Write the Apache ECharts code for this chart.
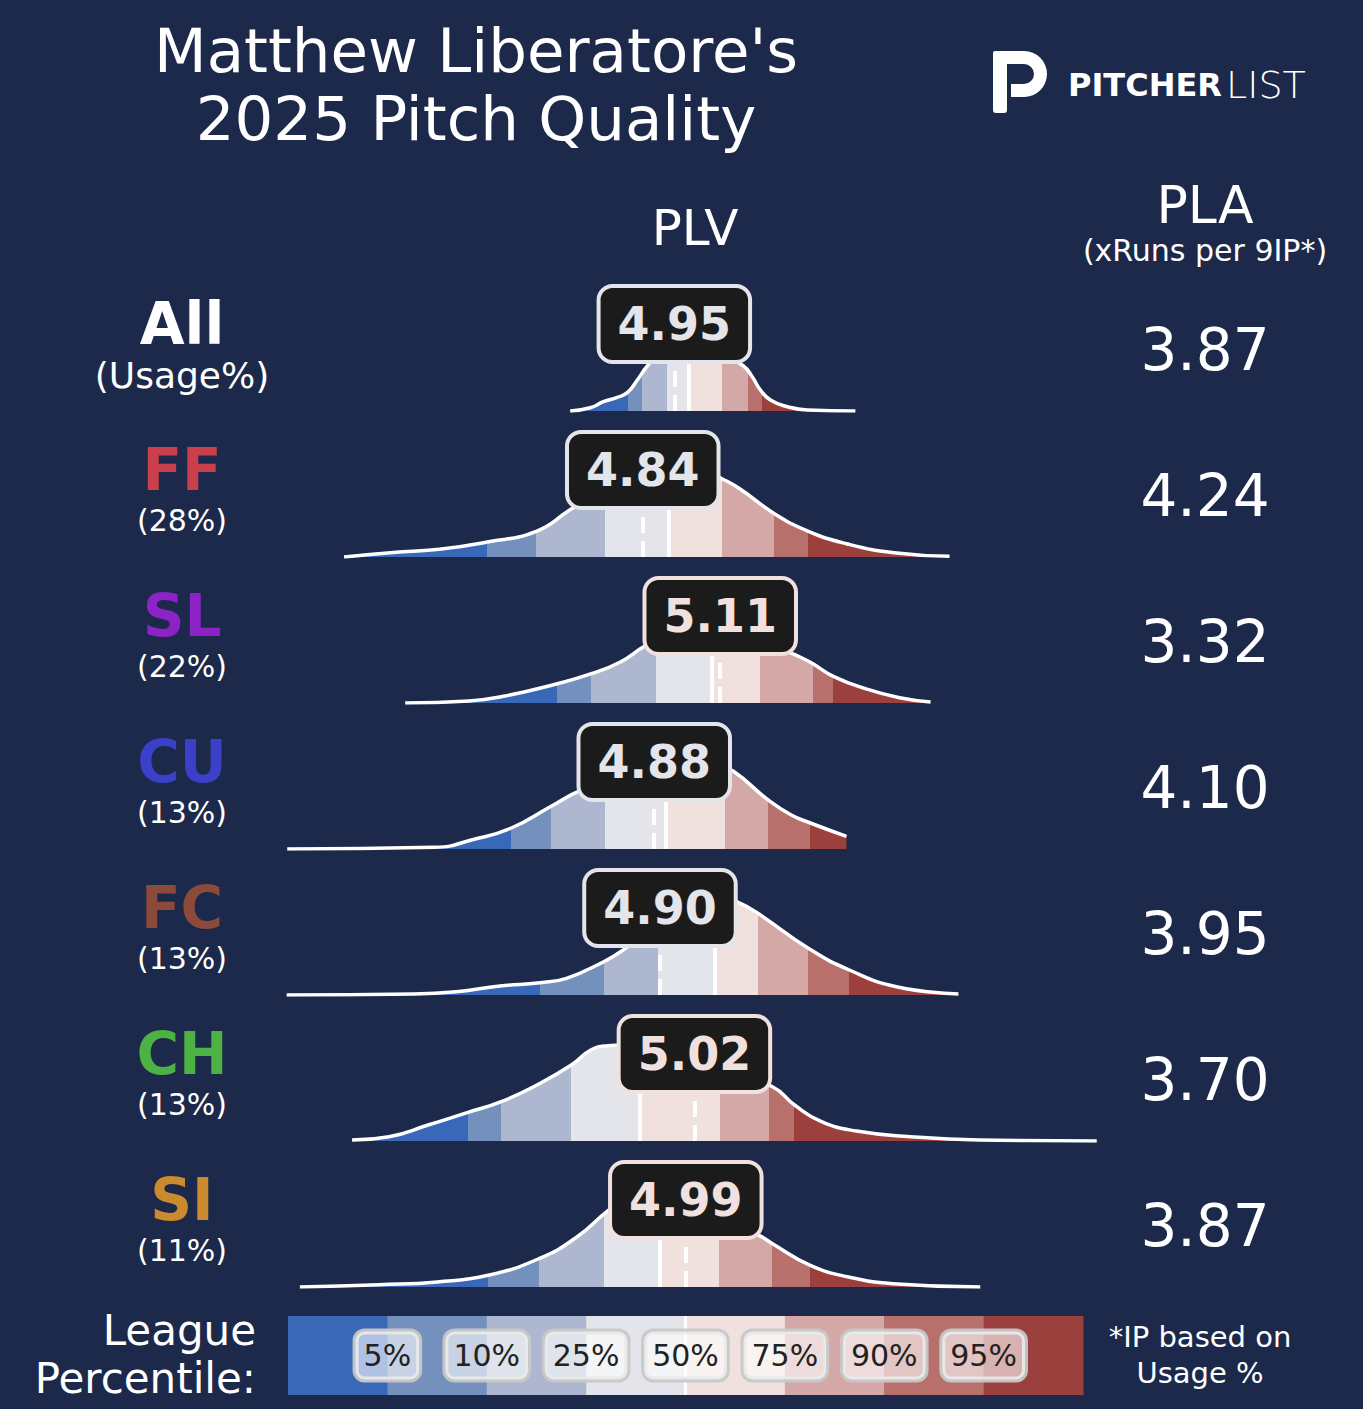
<!DOCTYPE html>
<html><head><meta charset="utf-8">
<script src="https://cdn.jsdelivr.net/npm/echarts@6/dist/echarts.min.js"></script>
<style>html,body{margin:0;padding:0;background:#1c294a;}#c{width:1363px;height:1409px;}</style>
</head><body><div id="c"></div>
<script>
// ---------------- data ----------------
const pitchTypes = ['All', 'FF', 'SL', 'CU', 'FC', 'CH', 'SI'];
const usageLabels = ['(Usage%)', '(28%)', '(22%)', '(13%)', '(13%)', '(13%)', '(11%)'];
const typeColors = ['#ffffff', '#c9404c', '#8d22c6', '#3c40c8', '#8c4a3a', '#4db244', '#c98b2e'];
const plvValues = [4.95, 4.84, 5.11, 4.88, 4.90, 5.02, 4.99];
const plaValues = ['3.87', '4.24', '3.32', '4.10', '3.95', '3.70', '3.87'];
const percentileLabels = ['5%', '10%', '25%', '50%', '75%', '90%', '95%'];
const bandColors = ['#3a68b8', '#7490bd', '#adb8d0', '#e4e5ea', '#f0e0de', '#d3a8a6', '#b7706c', '#9c403e'];

// league percentile thresholds (5,10,25,50,75,90,95) in PLV
const thrAll = [4.790, 4.838, 4.926, 4.999, 5.117, 5.205, 5.257];
const thrFF  = [4.298, 4.469, 4.709, 4.929, 5.117, 5.299, 5.417];
const thrSL  = [4.542, 4.661, 4.886, 5.076, 5.250, 5.433, 5.504];
const thrCU  = [4.382, 4.521, 4.709, 4.924, 5.128, 5.276, 5.424];
const thrFC  = [4.482, 4.704, 4.893, 5.088, 5.241, 5.417, 5.560];
const thrCH  = [4.231, 4.347, 4.591, 4.825, 5.109, 5.281, 5.368];
const thrSI  = [4.301, 4.478, 4.704, 4.903, 5.106, 5.292, 5.424];

// density curves [PLV, relative density]
const densAll = [[4.587,0],[4.657,3.3],[4.703,9.3],[4.751,13.7],[4.786,18.3],[4.821,31],[4.856,45],[4.901,58],[4.971,66],[5.041,66],[5.110,58],[5.191,45],[5.222,34],[5.250,21],[5.285,11],[5.344,4.3],[5.414,1],[5.581,0]];
const densFF = [[3.799,0],[3.991,5],[4.131,7.7],[4.298,15],[4.469,25.7],[4.584,46.7],[4.657,60],[4.762,76],[4.866,87],[4.971,91],[5.058,86],[5.116,78.3],[5.178,68.3],[5.299,43.3],[5.417,25.7],[5.550,13.3],[5.716,4.3],[5.909,0.7]];
const densSL = [[4.012,0],[4.235,2],[4.354,6.7],[4.542,19.3],[4.661,29.3],[4.762,41],[4.852,57.7],[4.936,68],[5.041,74],[5.145,71],[5.250,62],[5.337,52],[5.388,46],[5.433,39.3],[5.504,26.7],[5.616,14.3],[5.735,5.3],[5.843,1]];
const densCU = [[3.601,0],[4.117,1.7],[4.246,9.3],[4.382,21],[4.521,42.7],[4.622,58.3],[4.727,67],[4.832,75],[4.936,82],[5.041,85],[5.110,82],[5.156,77.7],[5.276,49.3],[5.356,34.3],[5.424,26],[5.550,12.7]];
const densFC = [[3.599,0],[4.037,1],[4.190,3.3],[4.343,9],[4.482,12.3],[4.574,16.7],[4.704,33.3],[4.772,45],[4.866,66],[4.971,84],[5.058,95],[5.128,96],[5.180,91.7],[5.241,81.7],[5.417,46.7],[5.560,25],[5.724,8.3],[5.940,1]];
const densCH = [[3.827,1],[3.956,4.3],[4.092,16],[4.231,28.7],[4.347,39.3],[4.471,56],[4.591,76],[4.659,91],[4.719,95.3],[4.770,96],[4.866,92],[5.006,82],[5.145,68],[5.292,54.3],[5.369,36],[5.463,19.3],[5.585,10],[5.773,4.3],[6.012,1],[6.422,0]];
const densSI = [[3.645,0],[3.922,2.3],[4.124,5],[4.301,11.7],[4.478,28.3],[4.607,49.3],[4.720,76.7],[4.779,88],[4.849,94],[4.936,92],[5.041,82],[5.145,68],[5.215,56],[5.260,49.3],[5.292,43.3],[5.424,21.7],[5.557,10],[5.713,3.3],[6.016,0]];

const thresholds = [thrAll, thrFF, thrSL, thrCU, thrFC, thrCH, thrSI];
const densities = [densAll, densFF, densSL, densCU, densFC, densCH, densSI];

// ---------------- build ----------------
const FONT = '"DejaVu Sans", "Noto Sans", sans-serif';
const BG = '#1c294a';
const ROW0 = 411, ROWSTEP = 146, ROWH = 100;
const SMOOTH = 0.5;

function bandIndex(v, thr) {
  let i = 0;
  while (i < thr.length && v >= thr[i]) i++;
  return i;
}
function pieces(thr) {
  const p = [{ lt: thr[0], color: bandColors[0] }];
  for (let i = 0; i < thr.length - 1; i++) p.push({ gte: thr[i], lt: thr[i + 1], color: bandColors[i + 1] });
  p.push({ gte: thr[thr.length - 1], color: bandColors[bandColors.length - 1] });
  return p;
}

const grids = [], xAxes = [], yAxes = [], series = [], visualMaps = [], graphics = [];

pitchTypes.forEach((pt, k) => {
  const base = ROW0 + ROWSTEP * k;
  grids.push({ left: 0, right: 0, top: base - ROWH, height: ROWH });
  xAxes.push({ type: 'value', gridIndex: k, min: 2.6, max: 7.35, show: false });
  yAxes.push({ type: 'value', gridIndex: k, min: 0, max: ROWH, show: false });
  const thr = thresholds[k];
  const col = bandColors[bandIndex(plvValues[k], thr)];
  visualMaps.push({ type: 'piecewise', show: false, dimension: 0, seriesIndex: series.length, pieces: pieces(thr) });
  series.push({
    type: 'line', xAxisIndex: k, yAxisIndex: k, data: densities[k], smooth: SMOOTH,
    symbol: 'none', lineStyle: { width: 0 }, areaStyle: { opacity: 1 }, z: 2, silent: true,
    markLine: {
      silent: true, symbol: 'none', label: { show: false }, z: 3,
      lineStyle: { color: '#ffffff', width: 4 },
      data: [
        { xAxis: thr[3], lineStyle: { color: '#ffffff', width: 4, type: 'solid' } },
        { xAxis: plvValues[k], lineStyle: { color: '#ffffff', width: 4, type: [16, 8] } }
      ]
    }
  });
  series.push({
    type: 'line', xAxisIndex: k, yAxisIndex: k, data: densities[k], smooth: SMOOTH,
    symbol: 'none', lineStyle: { color: '#ffffff', width: 3.5 }, z: 4, silent: true
  });
  series.push({
    type: 'scatter', xAxisIndex: k, yAxisIndex: k, data: [[plvValues[k], 87]], symbolSize: 0,
    itemStyle: { color: '#1b1b1b', opacity: 1 }, z: 10, silent: true,
    label: {
      show: true, position: 'inside', formatter: plvValues[k].toFixed(2), opacity: 1,
      fontFamily: FONT, fontSize: 46, fontWeight: 'bold', color: col, lineHeight: 50,
      backgroundColor: '#1b1b1b', borderColor: col, borderWidth: 4, borderRadius: 12, padding: [11, 17]
    }
  });
  // row labels
  graphics.push({ type: 'text', x: 182, y: base - 87, z: 20, style: { text: pt, fill: typeColors[k], font: 'bold 58px ' + FONT, lineHeight: 58, textAlign: 'center', textVerticalAlign: 'middle' } });
  graphics.push({ type: 'text', x: 182, y: base - (k === 0 ? 36 : 37), z: 20, style: { text: usageLabels[k], fill: '#ffffff', font: (k === 0 ? 36 : 30) + 'px ' + FONT, lineHeight: k === 0 ? 38 : 32, textAlign: 'center', textVerticalAlign: 'middle' } });
  graphics.push({ type: 'text', x: 1205, y: base - 61, z: 20, style: { text: plaValues[k], fill: '#ffffff', font: '58px ' + FONT, textAlign: 'center', textVerticalAlign: 'middle' } });
});

// legend bar
const L = pitchTypes.length;
grids.push({ left: 288, width: 795, top: 1316, height: 79 });
xAxes.push({ type: 'value', gridIndex: L, min: 0, max: 8, show: false });
yAxes.push({ type: 'value', gridIndex: L, min: 0, max: 1, show: false });
series.push({
  type: 'custom', xAxisIndex: L, yAxisIndex: L, silent: true, z: 2,
  data: bandColors.map((c, i) => [i, 1]),
  renderItem: (params, api) => {
    const i = api.value(0);
    const p0 = api.coord([i, 1]);
    const p1 = api.coord([i + 1, 0]);
    return { type: 'rect', shape: { x: p0[0], y: p0[1], width: p1[0] - p0[0] + 0.5, height: p1[1] - p0[1] }, style: { fill: bandColors[i] } };
  },
  markLine: { silent: true, symbol: 'none', label: { show: false }, lineStyle: { color: '#ffffff', width: 3, type: 'solid' }, data: [{ xAxis: 4 }] }
});
series.push({
  type: 'scatter', xAxisIndex: L, yAxisIndex: L, silent: true, z: 10, symbolSize: 0,
  itemStyle: { color: '#ffffff', opacity: 1 },
  data: percentileLabels.map((t, i) => [i + 1, 0.5]),
  label: {
    show: true, position: 'inside', formatter: p => percentileLabels[p.dataIndex], opacity: 1,
    fontFamily: FONT, fontSize: 30, color: '#222222', lineHeight: 34,
    backgroundColor: 'rgba(255,255,255,0.6)', borderColor: 'rgba(200,200,200,0.95)', borderWidth: 3, borderRadius: 9, padding: [7, 8]
  }
});

// static texts
graphics.push(
  { type: 'text', x: 476, y: 84, style: { text: "Matthew Liberatore's\n2025 Pitch Quality", fill: '#ffffff', font: '61px ' + FONT, lineHeight: 68, textAlign: 'center', textVerticalAlign: 'middle' } },
  { type: 'text', x: 695, y: 228, style: { text: 'PLV', fill: '#ffffff', font: '50px ' + FONT, textAlign: 'center', textVerticalAlign: 'middle' } },
  { type: 'text', x: 1205, y: 205, style: { text: 'PLA', fill: '#ffffff', font: '52px ' + FONT, textAlign: 'center', textVerticalAlign: 'middle' } },
  { type: 'text', x: 1205, y: 250, style: { text: '(xRuns per 9IP*)', fill: '#ffffff', font: '30px ' + FONT, textAlign: 'center', textVerticalAlign: 'middle' } },
  { type: 'text', x: 256, y: 1354, style: { text: 'League\nPercentile:', fill: '#ffffff', font: '42px ' + FONT, lineHeight: 48, textAlign: 'right', textVerticalAlign: 'middle' } },
  { type: 'text', x: 1200, y: 1355, style: { text: '*IP based on\nUsage %', fill: '#ffffff', font: '29px ' + FONT, lineHeight: 36, textAlign: 'center', textVerticalAlign: 'middle' } },
  // logo mark
  { type: 'rect', shape: { x: 993, y: 62, width: 14, height: 51, r: [0, 0, 3, 3] }, style: { fill: '#ffffff' } },
  { type: 'rect', shape: { x: 993, y: 51, width: 32, height: 13, r: [2, 0, 0, 0] }, style: { fill: '#ffffff' } },
  { type: 'rect', shape: { x: 1011, y: 84, width: 14, height: 13 }, style: { fill: '#ffffff' } },
  { type: 'sector', shape: { cx: 1024, cy: 74, r0: 10, r: 23, startAngle: -Math.PI / 2, endAngle: Math.PI / 2, clockwise: true }, style: { fill: '#ffffff' } },
  { type: 'text', x: 1068, y: 85, style: { text: 'PITCHER', fill: '#ffffff', font: 'bold 32px ' + FONT, textAlign: 'left', textVerticalAlign: 'middle' } },
  { type: 'text', x: 1226, y: 85, style: { text: 'LIST', fill: '#ffffff', font: '200 38px ' + FONT, textAlign: 'left', textVerticalAlign: 'middle' } }
);

const chart = echarts.init(document.getElementById('c'), null, { renderer: 'svg', width: 1363, height: 1409 });
chart.setOption({
  backgroundColor: BG,
  animation: false,
  grid: grids, xAxis: xAxes, yAxis: yAxes,
  visualMap: visualMaps,
  series: series,
  graphic: graphics
});
</script></body></html>
